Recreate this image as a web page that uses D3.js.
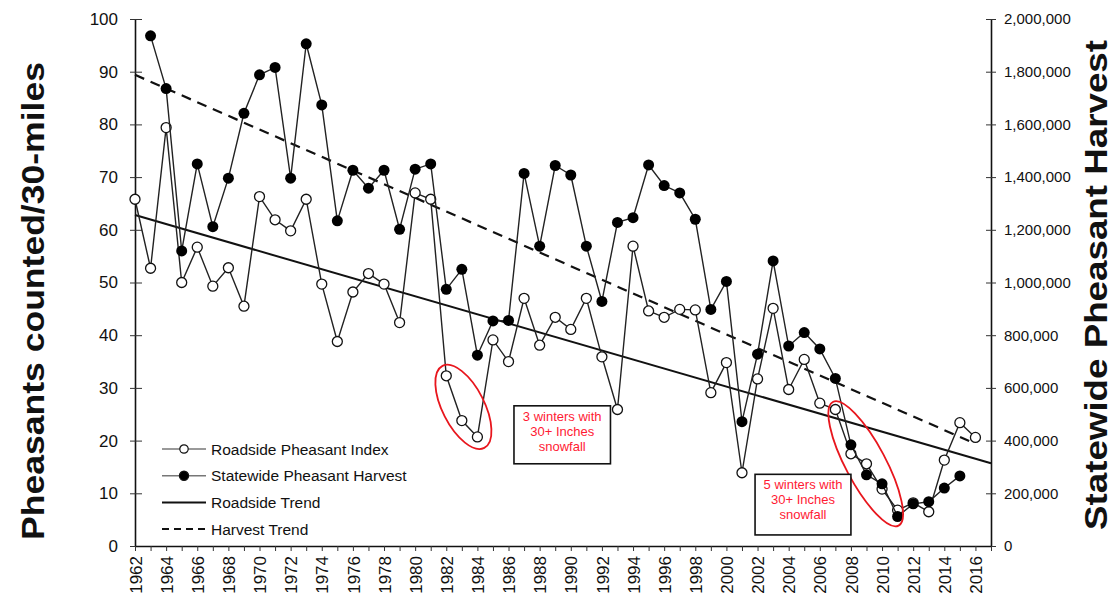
<!DOCTYPE html>
<html>
<head>
<meta charset="utf-8">
<script src="https://cdn.jsdelivr.net/npm/d3@7/dist/d3.min.js"></script>
<style>
  body { margin: 0; background: #fff; }
  svg { display: block; }
  text { font-family: "Liberation Sans", Arial, sans-serif; fill: #111; }
</style>
</head>
<body>
<svg width="1115" height="606"></svg>
<script>
var years = [1962, 1963, 1964, 1965, 1966, 1967, 1968, 1969, 1970, 1971,
  1972, 1973, 1974, 1975, 1976, 1977, 1978, 1979, 1980, 1981,
  1982, 1983, 1984, 1985, 1986, 1987, 1988, 1989, 1990, 1991,
  1992, 1993, 1994, 1995, 1996, 1997, 1998, 1999, 2000, 2001,
  2002, 2003, 2004, 2005, 2006, 2007, 2008, 2009, 2010, 2011,
  2012, 2013, 2014, 2015, 2016];

// pheasants counted per 30 miles
var roadside = [65.8, 52.7, 79.4, 50.0, 56.7, 49.3, 52.8, 45.5, 66.3, 61.9,
  59.8, 65.8, 49.7, 38.8, 48.2, 51.7, 49.7, 42.4, 67.0, 65.8,
  32.3, 23.8, 20.7, 39.1, 35.0, 47.0, 38.1, 43.4, 41.1, 47.0,
  35.9, 25.9, 56.9, 44.6, 43.4, 44.9, 44.8, 29.1, 34.8, 13.9,
  31.7, 45.1, 29.7, 35.4, 27.1, 25.9, 17.5, 15.6, 10.8, 6.8,
  8.2, 6.5, 16.3, 23.4, 20.6];

// statewide harvest (birds)
var harvest = [null, 1936000, 1736000, 1120000, 1450000, 1212000, 1396000, 1642000, 1788000, 1816000,
  1396000, 1906000, 1674000, 1234000, 1426000, 1358000, 1426000, 1202000, 1430000, 1450000,
  974000, 1050000, 724000, 854000, 856000, 1414000, 1138000, 1444000, 1408000, 1138000,
  928000, 1228000, 1246000, 1446000, 1368000, 1340000, 1240000, 898000, 1004000, 472000,
  728000, 1082000, 759000, 810000, 748000, 636000, 384000, 270000, 236000, 112000,
  160000, 168000, 220000, 266000, null];

// trend line end points
var roadsideTrend = [[1962, 62.8], [2017, 15.7]];
var harvestTrend = [[1962, 1788000], [2016, 388000]];

var leftTicks = [0, 10, 20, 30, 40, 50, 60, 70, 80, 90, 100];
var rightTicks = [0, 200000, 400000, 600000, 800000, 1000000, 1200000, 1400000, 1600000, 1800000, 2000000];
var yearTicks = years.concat([2017]);

var legendLabels = ['Roadside Pheasant Index', 'Statewide Pheasant Harvest', 'Roadside Trend', 'Harvest Trend'];

var notes = [
  {lines: ['3 winters with', '30+ Inches', 'snowfall'], ring: [1983.1, 26.4], box: [1986.35, 26.6, 1992.55, 15.6]},
  {lines: ['5 winters with', '30+ Inches', 'snowfall'], ring: [2008.95, 15.6], box: [2001.84, 13.6, 2008.0, 2.1]}
];
var ringSizes = [[46, 21, 63], [70, 20, 62]];

var svg = d3.select('svg');

var x = d3.scaleLinear().domain([1962, 2017]).range([135, 991]);
var yL = d3.scaleLinear().domain([0, 100]).range([546, 19]);
var yR = d3.scaleLinear().domain([0, 2000000]).range([546, 19]);

// axes
var leftAxis = svg.append('g')
  .attr('transform', 'translate(' + x(1962) + ',0)')
  .call(d3.axisLeft(yL).tickValues(leftTicks).tickSize(5).tickSizeOuter(0).tickPadding(12));
leftAxis.selectAll('.tick line').attr('x1', 7).attr('stroke', '#333');
leftAxis.selectAll('.tick text').attr('font-size', 17).attr('font-family', null);

var rightAxis = svg.append('g')
  .attr('transform', 'translate(' + x(2017) + ',0)')
  .call(d3.axisRight(yR).tickValues(rightTicks).tickSize(5).tickSizeOuter(0).tickPadding(8).tickFormat(d3.format(',')));
rightAxis.selectAll('.tick line').attr('x1', -5).attr('stroke', '#333');
rightAxis.selectAll('.tick text').attr('font-size', 15).attr('font-family', null);

var bottomAxis = svg.append('g')
  .attr('transform', 'translate(0,' + yL(0) + ')')
  .call(d3.axisBottom(x).tickValues(yearTicks).tickSize(5).tickSizeOuter(0)
    .tickFormat(function(d) { return (d % 2 == 0 && d < 2017) ? d : ''; }));
bottomAxis.selectAll('.tick line').attr('stroke', '#333');
bottomAxis.selectAll('.tick text')
  .attr('font-size', 17).attr('font-family', null)
  .attr('transform', 'rotate(-90)')
  .attr('text-anchor', 'end')
  .attr('x', -10).attr('y', 0).attr('dy', '0.36em');

svg.selectAll('.domain').attr('stroke', '#111').attr('stroke-width', 1.6);

// axis titles
svg.append('text')
  .attr('transform', 'translate(44,301) rotate(-90)')
  .attr('text-anchor', 'middle')
  .attr('font-size', 31)
  .attr('font-weight', 'bold')
  .attr('textLength', 478)
  .attr('lengthAdjust', 'spacingAndGlyphs')
  .text('Pheasants counted/30-miles');

svg.append('text')
  .attr('transform', 'translate(1107,285) rotate(-90)')
  .attr('text-anchor', 'middle')
  .attr('font-size', 31)
  .attr('font-weight', 'bold')
  .attr('textLength', 490)
  .attr('lengthAdjust', 'spacingAndGlyphs')
  .text('Statewide Pheasant Harvest');

// trend lines
var trendLine = d3.line().x(function(d) { return x(d[0]); });

svg.append('path')
  .datum(roadsideTrend)
  .attr('fill', 'none').attr('stroke', '#111').attr('stroke-width', 2)
  .attr('d', trendLine.y(function(d) { return yL(d[1]); }));

svg.append('path')
  .datum(harvestTrend)
  .attr('fill', 'none').attr('stroke', '#111').attr('stroke-width', 2.2)
  .attr('stroke-dasharray', '10,7')
  .attr('d', trendLine.y(function(d) { return yR(d[1]); }));

// data series
var roadsidePts = years.map(function(yr, i) { return {year: yr, v: roadside[i]}; });
var harvestPts = years.map(function(yr, i) { return {year: yr, v: harvest[i]}; })
  .filter(function(d) { return d.v != null; });

svg.append('path')
  .datum(roadsidePts)
  .attr('fill', 'none').attr('stroke', '#222').attr('stroke-width', 1.4)
  .attr('d', d3.line().x(function(d) { return x(d.year); }).y(function(d) { return yL(d.v); }));

svg.selectAll('.road-pt')
  .data(roadsidePts)
  .enter().append('circle')
  .attr('class', 'road-pt')
  .attr('cx', function(d) { return x(d.year); })
  .attr('cy', function(d) { return yL(d.v); })
  .attr('r', 5)
  .attr('fill', '#fff').attr('stroke', '#111').attr('stroke-width', 1.3);

svg.append('path')
  .datum(harvestPts)
  .attr('fill', 'none').attr('stroke', '#222').attr('stroke-width', 1.4)
  .attr('d', d3.line().x(function(d) { return x(d.year); }).y(function(d) { return yR(d.v); }));

svg.selectAll('.harv-pt')
  .data(harvestPts)
  .enter().append('circle')
  .attr('class', 'harv-pt')
  .attr('cx', function(d) { return x(d.year); })
  .attr('cy', function(d) { return yR(d.v); })
  .attr('r', 5.5)
  .attr('fill', '#000');

// snowfall notes
notes.forEach(function(n, i) {
  var s = ringSizes[i];
  svg.append('ellipse')
    .attr('transform', 'translate(' + x(n.ring[0]) + ',' + yL(n.ring[1]) + ') rotate(' + s[2] + ')')
    .attr('rx', s[0]).attr('ry', s[1])
    .attr('fill', 'none').attr('stroke', '#e8161d').attr('stroke-width', 1.8);

  var bx = x(n.box[0]), by = yL(n.box[1]);
  var bw = x(n.box[2]) - bx, bh = yL(n.box[3]) - by;
  svg.append('rect')
    .attr('x', bx).attr('y', by).attr('width', bw).attr('height', bh)
    .attr('fill', '#fff').attr('stroke', '#111').attr('stroke-width', 1.6);

  svg.selectAll(null)
    .data(n.lines)
    .enter().append('text')
    .attr('x', bx + bw / 2)
    .attr('y', function(d, j) { return by + 15 + j * 15; })
    .attr('text-anchor', 'middle')
    .attr('font-size', 13)
    .style('fill', '#ff1a33')
    .text(function(d) { return d; });
});

// legend
var legend = svg.append('g').attr('transform', 'translate(162,449)');
var rows = legend.selectAll('g')
  .data(legendLabels)
  .enter().append('g')
  .attr('transform', function(d, i) { return 'translate(0,' + (i * 26.7) + ')'; });

rows.append('line')
  .attr('x1', 0).attr('x2', 44).attr('y1', 0).attr('y2', 0)
  .attr('stroke', function(d, i) { return i < 2 ? '#777' : '#111'; })
  .attr('stroke-width', function(d, i) { return i < 2 ? 1.4 : 2; })
  .attr('stroke-dasharray', function(d, i) { return i == 3 ? '7,5' : null; });

rows.filter(function(d, i) { return i < 2; })
  .append('circle')
  .attr('cx', 22).attr('cy', 0)
  .attr('r', function(d, i) { return i == 0 ? 4.2 : 4.6; })
  .attr('fill', function(d, i) { return i == 0 ? '#fff' : '#000'; })
  .attr('stroke', '#111').attr('stroke-width', 1.2);

rows.append('text')
  .attr('x', 49).attr('y', 0).attr('dy', '0.36em')
  .attr('font-size', 15.5)
  .text(function(d) { return d; });
</script>
</body>
</html>
